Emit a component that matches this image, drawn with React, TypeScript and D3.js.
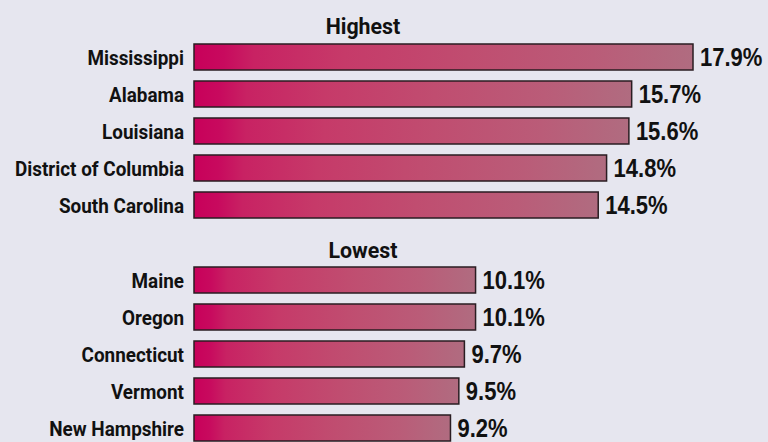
import React from 'react';
import * as d3 from 'd3';

const highestStates = ['Mississippi', 'Alabama', 'Louisiana', 'District of Columbia', 'South Carolina'];
const highestValues = [17.9, 15.7, 15.6, 14.8, 14.5];
const lowestStates = ['Maine', 'Oregon', 'Connecticut', 'Vermont', 'New Hampshire'];
const lowestValues = [10.1, 10.1, 9.7, 9.5, 9.2];
const sectionTitles = ['Highest', 'Lowest'];

const W = 768;
const H = 442;
const labelFont = 'Roboto, "DejaVu Sans Condensed", sans-serif';
const valueFont = '"Liberation Sans", Arial, sans-serif';

export default function App() {
  // 0 sits at the bar origin, Mississippi ends at ~693px
  const x = d3.scaleLinear().domain([0, 17.9]).range([194, 693]);

  const sections = [
    { title: sectionTitles[0], states: highestStates, values: highestValues, top: 44, titleY: 34 },
    { title: sectionTitles[1], states: lowestStates, values: lowestValues, top: 267, titleY: 258 },
  ];

  return (
    <svg width={W} height={H} style={{ position: 'absolute', left: 0, top: 0, background: '#e6e6ef' }}>
      <defs>
        <linearGradient id="barGrad" x1="0" x2="1" y1="0" y2="0">
          <stop offset="0" stopColor="#c8005a" />
          <stop offset="0.06" stopColor="#c80a5e" />
          <stop offset="0.12" stopColor="#c82263" />
          <stop offset="0.3" stopColor="#c63a69" />
          <stop offset="0.55" stopColor="#c04d70" />
          <stop offset="0.8" stopColor="#ba5c78" />
          <stop offset="1" stopColor="#b06c80" />
        </linearGradient>
      </defs>
      <rect x={0} y={0} width={W} height={H} fill="#e6e6ef" />
      {sections.map((s) => {
        const y = d3.scaleBand<string>()
          .domain(s.states)
          .range([s.top, s.top + 174])
          .paddingInner(11 / 37)
          .paddingOuter(0);
        return (
          <g key={s.title}>
            <text
              transform={`translate(363,${s.titleY}) scale(0.93,1)`}
              textAnchor="middle"
              fontFamily={labelFont}
              fontWeight="bold"
              fontSize={23}
              fill="#111"
            >
              {s.title}
            </text>
            {s.states.map((st, i) => {
              const by = y(st)!;
              const bh = y.bandwidth();
              return (
                <g key={st}>
                  <text
                    transform={`translate(184,${by + bh / 2 + 8}) scale(0.9,1)`}
                    textAnchor="end"
                    fontFamily={labelFont}
                    fontWeight="bold"
                    fontSize={21}
                    fill="#111"
                  >
                    {st}
                  </text>
                  <rect
                    x={x(0)}
                    y={by}
                    width={x(s.values[i]) - x(0)}
                    height={bh}
                    fill="url(#barGrad)"
                    stroke="#2a1d22"
                    strokeWidth={1.5}
                  />
                  <text
                    transform={`translate(${x(s.values[i]) + 7},${by + bh / 2 + 9}) scale(0.88,1)`}
                    fontFamily={valueFont}
                    fontWeight="bold"
                    fontSize={25}
                    fill="#111"
                  >
                    {s.values[i].toFixed(1)}%
                  </text>
                </g>
              );
            })}
          </g>
        );
      })}
    </svg>
  );
}
